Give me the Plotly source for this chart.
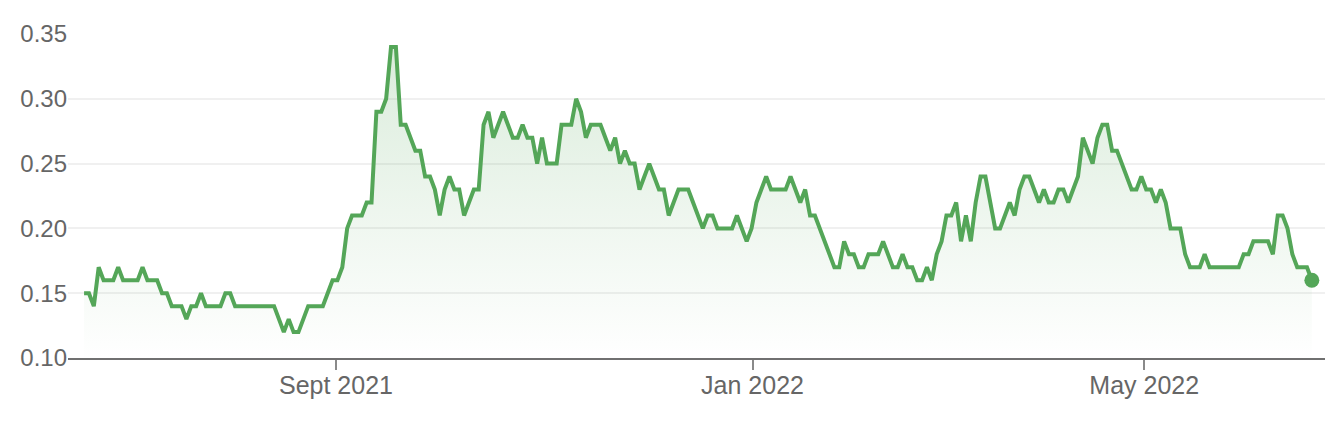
import plotly.graph_objects as go

# Daily closing values (trading days)
values = [
    0.15, 0.15, 0.14, 0.17, 0.16, 0.16, 0.16, 0.17, 0.16, 0.16,
    0.16, 0.16, 0.17, 0.16, 0.16, 0.16, 0.15, 0.15, 0.14, 0.14,
    0.14, 0.13, 0.14, 0.14, 0.15, 0.14, 0.14, 0.14, 0.14, 0.15,
    0.15, 0.14, 0.14, 0.14, 0.14, 0.14, 0.14, 0.14, 0.14, 0.14,
    0.13, 0.12, 0.13, 0.12, 0.12, 0.13, 0.14, 0.14, 0.14, 0.14,
    0.15, 0.16, 0.16, 0.17, 0.20, 0.21, 0.21, 0.21, 0.22, 0.22,
    0.29, 0.29, 0.30, 0.34, 0.34, 0.28, 0.28, 0.27, 0.26, 0.26,
    0.24, 0.24, 0.23, 0.21, 0.23, 0.24, 0.23, 0.23, 0.21, 0.22,
    0.23, 0.23, 0.28, 0.29, 0.27, 0.28, 0.29, 0.28, 0.27, 0.27,
    0.28, 0.27, 0.27, 0.25, 0.27, 0.25, 0.25, 0.25, 0.28, 0.28,
    0.28, 0.30, 0.29, 0.27, 0.28, 0.28, 0.28, 0.27, 0.26, 0.27,
    0.25, 0.26, 0.25, 0.25, 0.23, 0.24, 0.25, 0.24, 0.23, 0.23,
    0.21, 0.22, 0.23, 0.23, 0.23, 0.22, 0.21, 0.20, 0.21, 0.21,
    0.20, 0.20, 0.20, 0.20, 0.21, 0.20, 0.19, 0.20, 0.22, 0.23,
    0.24, 0.23, 0.23, 0.23, 0.23, 0.24, 0.23, 0.22, 0.23, 0.21,
    0.21, 0.20, 0.19, 0.18, 0.17, 0.17, 0.19, 0.18, 0.18, 0.17,
    0.17, 0.18, 0.18, 0.18, 0.19, 0.18, 0.17, 0.17, 0.18, 0.17,
    0.17, 0.16, 0.16, 0.17, 0.16, 0.18, 0.19, 0.21, 0.21, 0.22,
    0.19, 0.21, 0.19, 0.22, 0.24, 0.24, 0.22, 0.20, 0.20, 0.21,
    0.22, 0.21, 0.23, 0.24, 0.24, 0.23, 0.22, 0.23, 0.22, 0.22,
    0.23, 0.23, 0.22, 0.23, 0.24, 0.27, 0.26, 0.25, 0.27, 0.28,
    0.28, 0.26, 0.26, 0.25, 0.24, 0.23, 0.23, 0.24, 0.23, 0.23,
    0.22, 0.23, 0.22, 0.20, 0.20, 0.20, 0.18, 0.17, 0.17, 0.17,
    0.18, 0.17, 0.17, 0.17, 0.17, 0.17, 0.17, 0.17, 0.18, 0.18,
    0.19, 0.19, 0.19, 0.19, 0.18, 0.21, 0.21, 0.20, 0.18, 0.17,
    0.17, 0.17, 0.16,
]
day_index = list(range(len(values)))

# x-axis month ticks (trading-day positions) and labels
tick_positions = [51.7, 137.2, 217.6]
tick_labels = ["Sept 2021", "Jan 2022", "May 2022"]

y_ticks = [0.10, 0.15, 0.20, 0.25, 0.30, 0.35]

line_color = "rgb(84,166,88)"
text_color = "#666666"

fig = go.Figure()
fig.add_trace(go.Scatter(
    x=day_index,
    y=values,
    mode="lines",
    line=dict(color=line_color, width=4, shape="linear"),
    fill="tozeroy",
    fillgradient=dict(
        type="vertical",
        start=0.10,
        stop=0.35,
        colorscale=[[0, "rgba(84,166,88,0.0)"], [1, "rgba(84,166,88,0.22)"]],
    ),
    hoverinfo="skip",
    showlegend=False,
))
fig.add_trace(go.Scatter(
    x=[day_index[-1]],
    y=[values[-1]],
    mode="markers",
    marker=dict(color=line_color, size=15),
    hoverinfo="skip",
    showlegend=False,
))

fig.update_layout(
    width=1338,
    height=426,
    margin=dict(l=59, r=21, t=23, b=76),
    paper_bgcolor="white",
    plot_bgcolor="white",
    font=dict(family="Liberation Sans, Arial, sans-serif", size=24, color=text_color),
    xaxis=dict(
        range=[-3.3, 254.7],
        tickmode="array",
        tickvals=tick_positions,
        ticktext=tick_labels,
        showgrid=False,
        zeroline=False,
        showline=True,
        linecolor="#707070",
        linewidth=2,
        ticks="outside",
        ticklen=10,
        tickwidth=1.5,
        tickcolor="#8a8a8a",
        ticklabelstandoff=-6,
        tickfont=dict(size=25, color=text_color),
    ),
    yaxis=dict(
        range=[0.10, 0.35],
        tickmode="array",
        tickvals=y_ticks,
        tickformat=".2f",
        showgrid=True,
        gridcolor="#f0f0f0",
        gridwidth=2,
        zeroline=False,
        showline=False,
        ticks="",
        tickfont=dict(size=24, color=text_color),
    ),
)

fig.write_html("out.html")
